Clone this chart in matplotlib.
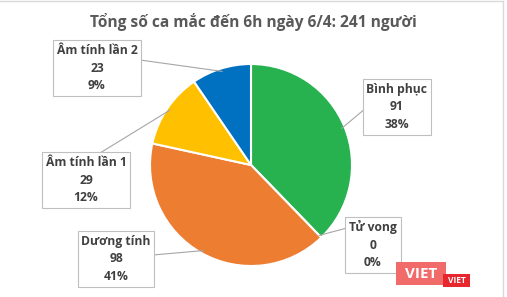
import numpy as np
import matplotlib.pyplot as plt
from matplotlib.patches import Rectangle

plt.rcParams['font.family'] = ['Open Sans', 'DejaVu Sans']

# dữ liệu
labels = ['Bình phục', 'Tử vong', 'Dương tính', 'Âm tính lần 1', 'Âm tính lần 2']
values = [91, 0, 98, 29, 23]
percents = [38, 0, 41, 12, 9]
colors = ['#27b24f', '#5b9bd5', '#ed7d31', '#ffc000', '#0070c0']
title = 'Tổng số ca mắc đến 6h ngày 6/4: 241 người'

W, H = 507, 297
fig = plt.figure(figsize=(W / 100, H / 100), dpi=100)
ax = fig.add_axes([0, 0, 1, 1])

cx, cy, r = 251, H - 165, 101
wedges, _ = ax.pie(values, colors=colors, startangle=90, counterclock=False,
                   center=(cx, cy), radius=r,
                   wedgeprops=dict(edgecolor='white', linewidth=1.5))
ax.set_xlim(0, W)
ax.set_ylim(0, H)
ax.set_aspect('equal')
ax.axis('off')

# vị trí hộp nhãn (tâm, pixel) và điểm nối từ hộp
box_pos = [(397, 107), (373, 245), (116, 259), (86, 180), (97, 68)]
anchor = [(366, 108), (347, 228), (153, 255), (100, 153), (140, 60)]
text_col = '#404040'

for w, lab, v, p, (bx, by), (axx, ayy) in zip(wedges, labels, values, percents, box_pos, anchor):
    ang = np.deg2rad((w.theta1 + w.theta2) / 2)
    px = cx + r * 0.97 * np.cos(ang)
    py = cy + r * 0.97 * np.sin(ang)
    ax.plot([axx, px], [H - ayy, py], color='#a6a6a6', lw=0.8, zorder=1)
    ax.text(bx, H - by, f'{lab}\n{v}\n{p}%', ha='center', va='center',
            fontsize=8.7, fontweight='bold', color=text_col, linespacing=1.45,
            bbox=dict(boxstyle='square,pad=0.3', fc='white', ec='#bfbfbf', lw=0.8),
            zorder=3)

ax.text(W / 2, H - 22, title, ha='center', va='center', fontsize=11.2,
        fontweight='bold', color='#595959')

# khung viền
ax.plot([0, 503], [H - 1, H - 1], color='#d9d9d9', lw=1)
ax.plot([503, 503], [0, H - 1], color='#d9d9d9', lw=1)

# watermark
ax.add_patch(Rectangle((396, H - 285), 50, 23, fc='#f26b6b', ec='none', zorder=4))
ax.text(421, H - 273.5, 'VIET', ha='center', va='center', fontsize=11,
        fontweight='bold', color='white', zorder=5)
ax.add_patch(Rectangle((443, H - 287), 27, 13, fc='#e8262e', ec='none', zorder=4))
ax.text(456.5, H - 280.5, 'VIET', ha='center', va='center', fontsize=6,
        fontweight='bold', color='white', zorder=5)

fig.savefig('out.png', dpi=100)
